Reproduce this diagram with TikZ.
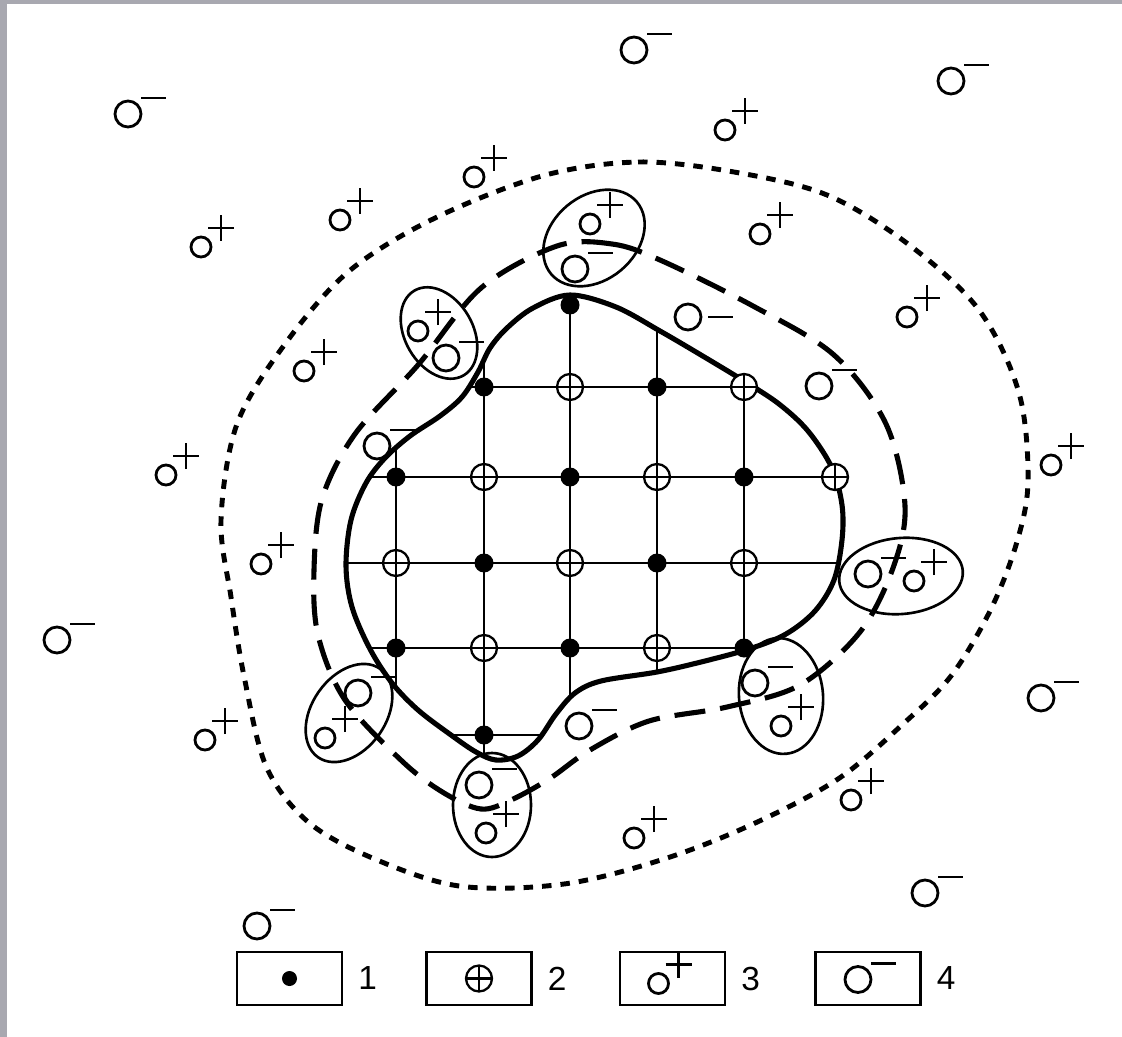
\documentclass[tikz,border=0pt]{standalone}
\usepackage{fontspec}
\setmainfont{Liberation Sans}
\usetikzlibrary{positioning,calc}
\definecolor{Frame}{RGB}{168,168,176}

\tikzset{
  pics/anion/.style={code={
    \draw[ion] (0,0) circle[radius=13];
    \draw[ion] (13,-16) -- (38,-16);}},
  pics/anionmid/.style={code={
    \draw[ion] (0,0) circle[radius=13];
    \draw[ion] (20,0) -- (45,0);}},
  pics/cation/.style={code={
    \draw[ion] (0,0) circle[radius=10];
    \draw[ion] (7,-19) -- (33,-19) (20,-6) -- (20,-32);}},
}

\begin{document}
\begin{tikzpicture}[x=0.02cm,y=-0.02cm,
ion/.style={line width=1.6pt},
bound/.style={line width=2.9pt},
shell/.style={line width=2.9pt,dash pattern=on 0.62cm off 0.3cm},
halo/.style={line width=2.8pt,dash pattern=on 0.19cm off 0.18cm},
pair/.style={line width=1.5pt},
gridline/.style={line width=1.25pt},
site/.style={circle,fill,inner sep=0,minimum size=0.38cm},
hole/.style={circle,draw,fill=white,line width=1.3pt,inner sep=0,minimum size=0.52cm,
  path picture={\draw[line width=1.3pt] (path picture bounding box.north)--(path picture bounding box.south)
  (path picture bounding box.west)--(path picture bounding box.east);}},
keybox/.style={draw,line width=1.3pt,minimum width=2.1cm,minimum height=1.06cm,inner sep=0},
num/.style={inner sep=0,font=\fontsize{19}{19}\selectfont}]
\useasboundingbox (0,0) rectangle (1122,1037);
\fill[Frame] (0,0) rectangle (1122,1037);
\fill[white] (7,4) rectangle (1122,1037);

% grown cluster boundary
\path[save path=\bndpath] plot[smooth cycle,tension=0.55] coordinates {
  (570,295) (616,307) (660,331) (701,355) (744,381) (779,404) (808,431) (832,468)
  (842,505) (842,540) (834,580) (815,611) (786,634) (749,649) (701,662) (657,672)
  (601,681) (575,693) (556,714) (538,740) (518,756) (496,760) (476,752) (451,735)
  (418,710) (392,683) (370,649) (352,607) (346,566) (351,520) (366,483) (385,458)
  (410,436) (440,416) (462,397) (478,372) (490,348) (507,328) (533,308)};
\begin{scope}
\clip[use path=\bndpath];
\foreach \x in {396,484,570,657,744} \draw[gridline] (\x,280) -- (\x,780);
\foreach \y in {387,477,563,648,735} \draw[gridline] (330,\y) -- (860,\y);
\end{scope}
\draw[bound,use path=\bndpath];

% double layer
\draw[shell] plot[smooth cycle,tension=0.55] coordinates {
  (557,246) (612,244) (660,260) (753,306) (834,355) (886,424) (905,506) (893,568)
  (860,632) (800,685) (727,707) (649,721) (590,750) (549,779) (511,800) (481,809)
  (444,793) (403,762) (345,700) (318,635) (314,570) (322,499) (355,434) (418,365)
  (481,288)};

% diffuse layer
\draw[halo] plot[smooth cycle,tension=0.55] coordinates {
  (542,176) (638,162) (734,172) (827,195) (908,244) (979,310) (1019,393) (1028,482)
  (1016,545) (990,611) (951,676) (903,724) (838,779) (753,824) (664,859) (564,884)
  (459,886) (370,857) (307,821) (266,766) (244,676) (231,597) (221,520) (237,424)
  (285,344) (348,272) (433,219)};

% ion pairs
\draw[pair,rotate around={40:(594,238)}] (594,238) ellipse [x radius=56,y radius=42];
\draw[pair,rotate around={-60:(439,333)}] (439,333) ellipse [x radius=49,y radius=34];
\draw[pair,rotate around={5:(901,576)}] (901,576) ellipse [x radius=62,y radius=38];
\draw[pair,rotate around={-85:(781,696)}] (781,696) ellipse [x radius=58,y radius=42];
\draw[pair] (492,805) ellipse [x radius=39,y radius=52];
\draw[pair,rotate around={55:(349,713)}] (349,713) ellipse [x radius=54,y radius=37];

% lattice sites
\foreach \c/\r in {570/305,484/387,657/387,396/477,570/477,744/477,484/563,657/563,
  396/648,570/648,744/648,484/735}
  \node[site] (s-\c-\r) at (\c,\r) {};
\foreach \c/\r in {570/387,744/387,484/477,657/477,835/477,396/563,570/563,744/563,
  484/648,657/648}
  \node[hole] (h-\c-\r) at (\c,\r) {};

% counter ions
\foreach \x/\y [count=\i] in {128/114,634/50,951/81,819/386,377/446,57/640,1041/698,
  579/726,925/893,257/926,575/269,446/358,868/574,755/683,479/785,358/693}
  \pic (a\i) at (\x,\y) {anion};
\pic (a17) at (688,317) {anionmid};
\foreach \x/\y [count=\i] in {201/247,340/220,474/177,304/371,166/475,725/130,760/234,
  907/317,1051/465,261/564,205/740,851/800,634/838,590/224,418/331,914/581,781/726,
  486/833,325/738}
  \pic (c\i) at (\x,\y) {cation};

% legend
\node[keybox] (key1) at (289.5,978.5) {};
\node[keybox] (key2) at (479,978.5) {};
\node[keybox] (key3) at (672.5,978.5) {};
\node[keybox] (key4) at (868,978.5) {};
\node[site,minimum size=0.3cm] (k1) at (key1) {};
\node[hole] (k2) at (key2) {};
\pic (k3) at ($(key3)+(-14,5)$) {cation};
\pic (k4) at ($(key4)+(-10,1)$) {anion};
\node[num,right=0.3cm of key1] (n1) {1};
\node[num,right=0.3cm of key2] (n2) {2};
\node[num,right=0.3cm of key3] (n3) {3};
\node[num,right=0.3cm of key4] (n4) {4};
\end{tikzpicture}
\end{document}
